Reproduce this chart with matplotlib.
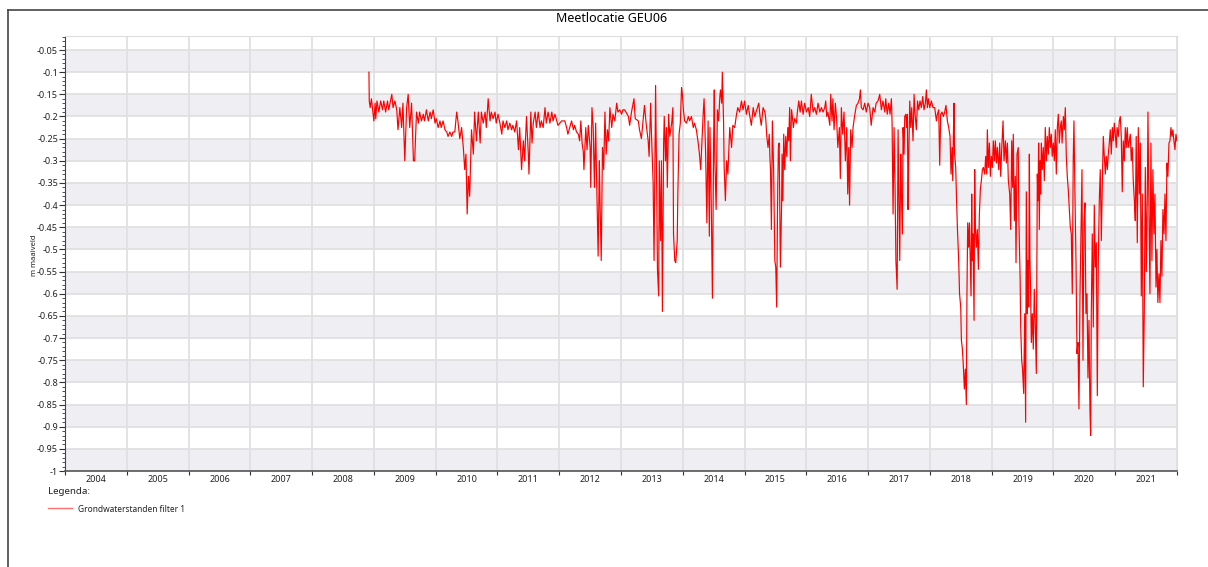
import numpy as np
import matplotlib
matplotlib.use('Agg')
import matplotlib.pyplot as plt
from matplotlib.lines import Line2D
from matplotlib.ticker import MultipleLocator, FixedLocator, FuncFormatter, NullFormatter

plt.rcParams['font.family'] = ['Noto Sans', 'DejaVu Sans']

# grondwaterstand (m t.o.v. maaiveld) per decimaal jaar
meting_2009_2010 = [
    (2008.92, -0.10), (2008.925, -0.165), (2008.94, -0.18), (2008.96, -0.16), (2008.98, -0.185),
    (2009.00, -0.21), (2009.02, -0.17), (2009.03, -0.205), (2009.05, -0.165), (2009.08, -0.19),
    (2009.11, -0.165), (2009.14, -0.185), (2009.16, -0.165), (2009.19, -0.19), (2009.22, -0.165),
    (2009.24, -0.185), (2009.29, -0.15), (2009.31, -0.18), (2009.34, -0.165), (2009.37, -0.185),
    (2009.39, -0.23), (2009.42, -0.18), (2009.45, -0.225), (2009.47, -0.17), (2009.50, -0.30),
    (2009.53, -0.18), (2009.555, -0.15), (2009.58, -0.225), (2009.61, -0.17), (2009.64, -0.30),
    (2009.66, -0.30), (2009.69, -0.19), (2009.72, -0.215), (2009.74, -0.19), (2009.77, -0.21),
    (2009.80, -0.195), (2009.82, -0.21), (2009.85, -0.185), (2009.88, -0.21), (2009.91, -0.19),
    (2009.93, -0.205), (2009.96, -0.185), (2009.99, -0.215), (2010.01, -0.205), (2010.04, -0.225),
    (2010.07, -0.21), (2010.09, -0.225), (2010.12, -0.21), (2010.15, -0.23), (2010.18, -0.235),
    (2010.20, -0.245), (2010.23, -0.235), (2010.26, -0.245), (2010.28, -0.235), (2010.31, -0.235),
    (2010.34, -0.19), (2010.36, -0.21), (2010.39, -0.25), (2010.42, -0.225), (2010.45, -0.275),
    (2010.47, -0.32), (2010.49, -0.285), (2010.51, -0.42), (2010.53, -0.335), (2010.55, -0.38),
    (2010.58, -0.23), (2010.61, -0.285), (2010.63, -0.19), (2010.66, -0.255), (2010.69, -0.19),
    (2010.72, -0.26), (2010.74, -0.19), (2010.77, -0.215), (2010.80, -0.19), (2010.82, -0.225),
    (2010.85, -0.16), (2010.88, -0.21), (2010.90, -0.19), (2010.93, -0.205), (2010.96, -0.19),
    (2010.98, -0.215), (2011.01, -0.195),
]

meting_2011_2012 = [
    (2011.04, -0.215), (2011.07, -0.24), (2011.09, -0.21), (2011.12, -0.225), (2011.15, -0.21),
    (2011.17, -0.23), (2011.20, -0.215), (2011.23, -0.23), (2011.25, -0.22), (2011.28, -0.235),
    (2011.31, -0.21), (2011.34, -0.275), (2011.36, -0.225), (2011.39, -0.32), (2011.42, -0.255),
    (2011.44, -0.30), (2011.47, -0.20), (2011.50, -0.285), (2011.51, -0.33), (2011.54, -0.19),
    (2011.56, -0.26), (2011.58, -0.215), (2011.61, -0.19), (2011.63, -0.225), (2011.66, -0.19),
    (2011.69, -0.225), (2011.71, -0.21), (2011.74, -0.225), (2011.77, -0.18), (2011.79, -0.215),
    (2011.82, -0.19), (2011.85, -0.215), (2011.88, -0.19), (2011.90, -0.21), (2011.93, -0.195),
    (2011.98, -0.22), (2012.04, -0.21), (2012.09, -0.21), (2012.12, -0.225), (2012.14, -0.24),
    (2012.17, -0.225), (2012.20, -0.21), (2012.23, -0.23), (2012.25, -0.22), (2012.28, -0.235),
    (2012.31, -0.24), (2012.33, -0.255), (2012.35, -0.21), (2012.37, -0.26), (2012.39, -0.28),
    (2012.40, -0.32), (2012.43, -0.225), (2012.45, -0.275), (2012.47, -0.22), (2012.50, -0.27),
    (2012.51, -0.36), (2012.53, -0.18), (2012.55, -0.225), (2012.57, -0.36), (2012.59, -0.215),
    (2012.60, -0.305), (2012.63, -0.515), (2012.65, -0.30), (2012.66, -0.39), (2012.68, -0.525),
    (2012.70, -0.27), (2012.72, -0.32), (2012.74, -0.19), (2012.76, -0.285), (2012.78, -0.23),
    (2012.80, -0.255), (2012.82, -0.18), (2012.85, -0.225), (2012.87, -0.195), (2012.90, -0.21),
    (2012.93, -0.17), (2012.95, -0.19), (2012.98, -0.185), (2013.01, -0.195), (2013.03, -0.185),
]

meting_2013_2014 = [
    (2013.06, -0.185), (2013.12, -0.20), (2013.14, -0.22), (2013.17, -0.19), (2013.21, -0.16),
    (2013.23, -0.205), (2013.28, -0.21), (2013.30, -0.23), (2013.33, -0.25), (2013.36, -0.205),
    (2013.38, -0.175), (2013.41, -0.22), (2013.44, -0.255), (2013.455, -0.29), (2013.48, -0.17),
    (2013.49, -0.225), (2013.52, -0.35), (2013.535, -0.525), (2013.56, -0.13), (2013.58, -0.39),
    (2013.59, -0.545), (2013.61, -0.605), (2013.62, -0.30), (2013.64, -0.48), (2013.655, -0.30),
    (2013.67, -0.64), (2013.69, -0.26), (2013.70, -0.20), (2013.72, -0.30), (2013.735, -0.225),
    (2013.75, -0.36), (2013.77, -0.195), (2013.79, -0.245), (2013.82, -0.215), (2013.84, -0.18),
    (2013.85, -0.465), (2013.87, -0.525), (2013.886, -0.53), (2013.91, -0.48), (2013.92, -0.375),
    (2013.94, -0.24), (2013.96, -0.215), (2013.98, -0.135), (2013.994, -0.15), (2014.01, -0.185),
    (2014.03, -0.21), (2014.06, -0.215), (2014.09, -0.20), (2014.11, -0.21), (2014.14, -0.20),
    (2014.17, -0.225), (2014.19, -0.215), (2014.22, -0.23), (2014.25, -0.26), (2014.27, -0.285),
    (2014.29, -0.32), (2014.31, -0.255), (2014.33, -0.195), (2014.345, -0.16), (2014.37, -0.285),
    (2014.39, -0.44), (2014.41, -0.21), (2014.43, -0.47), (2014.44, -0.225), (2014.46, -0.39),
    (2014.48, -0.61), (2014.50, -0.245), (2014.51, -0.14), (2014.52, -0.30), (2014.54, -0.41),
    (2014.56, -0.185), (2014.58, -0.21), (2014.60, -0.155), (2014.61, -0.14), (2014.63, -0.17),
    (2014.64, -0.10), (2014.66, -0.21), (2014.67, -0.315), (2014.69, -0.39), (2014.71, -0.30),
    (2014.73, -0.33), (2014.76, -0.225), (2014.79, -0.27), (2014.81, -0.22), (2014.84, -0.225),
    (2014.87, -0.195), (2014.89, -0.18), (2014.92, -0.19), (2014.95, -0.165), (2014.975, -0.185),
    (2015.00, -0.165), (2015.03, -0.195), (2015.06, -0.175), (2015.08, -0.195), (2015.11, -0.22),
    (2015.14, -0.18), (2015.165, -0.20),
]

meting_2015_2016 = [
    (2015.23, -0.17), (2015.25, -0.20), (2015.27, -0.22), (2015.30, -0.18), (2015.33, -0.19),
    (2015.343, -0.205), (2015.36, -0.245), (2015.38, -0.27), (2015.40, -0.24), (2015.41, -0.29),
    (2015.42, -0.32), (2015.435, -0.455), (2015.45, -0.21), (2015.47, -0.315), (2015.478, -0.40),
    (2015.49, -0.525), (2015.505, -0.54), (2015.52, -0.63), (2015.537, -0.36), (2015.548, -0.27),
    (2015.56, -0.26), (2015.57, -0.405), (2015.58, -0.54), (2015.60, -0.395), (2015.607, -0.285),
    (2015.62, -0.39), (2015.634, -0.24), (2015.65, -0.32), (2015.667, -0.245), (2015.683, -0.29),
    (2015.70, -0.225), (2015.715, -0.255), (2015.73, -0.18), (2015.742, -0.30), (2015.76, -0.185),
    (2015.774, -0.20), (2015.79, -0.225), (2015.81, -0.205), (2015.84, -0.215), (2015.855, -0.19),
    (2015.877, -0.165), (2015.90, -0.19), (2015.92, -0.165), (2015.947, -0.195), (2015.974, -0.17),
    (2016.00, -0.19), (2016.03, -0.18), (2016.055, -0.20), (2016.08, -0.15), (2016.11, -0.19),
    (2016.136, -0.18), (2016.163, -0.195), (2016.19, -0.17), (2016.217, -0.19), (2016.244, -0.18),
    (2016.27, -0.19), (2016.298, -0.18), (2016.314, -0.165), (2016.33, -0.20), (2016.35, -0.19),
    (2016.38, -0.22), (2016.395, -0.15), (2016.416, -0.21), (2016.43, -0.16), (2016.449, -0.23),
    (2016.47, -0.17), (2016.49, -0.205), (2016.51, -0.27), (2016.535, -0.225), (2016.55, -0.34),
    (2016.567, -0.18), (2016.589, -0.24), (2016.61, -0.19), (2016.632, -0.30), (2016.654, -0.225),
    (2016.67, -0.375), (2016.686, -0.27), (2016.70, -0.40), (2016.718, -0.23), (2016.74, -0.27),
    (2016.756, -0.225), (2016.78, -0.20), (2016.81, -0.175), (2016.837, -0.17), (2016.86, -0.16),
    (2016.875, -0.14), (2016.89, -0.18), (2016.918, -0.185), (2016.945, -0.17), (2016.97, -0.19),
    (2017.00, -0.17), (2017.026, -0.18), (2017.05, -0.22), (2017.08, -0.18), (2017.107, -0.19),
    (2017.13, -0.17), (2017.16, -0.165), (2017.188, -0.15), (2017.215, -0.185), (2017.24, -0.165),
    (2017.27, -0.19),
]

meting_2017_2018 = [
    (2017.285, -0.16), (2017.31, -0.195), (2017.334, -0.17), (2017.355, -0.195), (2017.377, -0.16),
    (2017.388, -0.215), (2017.404, -0.42), (2017.42, -0.225), (2017.436, -0.36), (2017.45, -0.525),
    (2017.47, -0.59), (2017.485, -0.23), (2017.50, -0.395), (2017.512, -0.525), (2017.528, -0.285),
    (2017.539, -0.375), (2017.555, -0.465), (2017.566, -0.225), (2017.582, -0.285), (2017.593, -0.20),
    (2017.61, -0.195), (2017.625, -0.225), (2017.636, -0.195), (2017.647, -0.41), (2017.657, -0.30),
    (2017.674, -0.165), (2017.69, -0.225), (2017.706, -0.18), (2017.727, -0.255), (2017.744, -0.15),
    (2017.76, -0.195), (2017.781, -0.23), (2017.80, -0.165), (2017.819, -0.185), (2017.84, -0.165),
    (2017.862, -0.18), (2017.884, -0.155), (2017.905, -0.185), (2017.927, -0.17), (2017.943, -0.14),
    (2017.959, -0.18), (2017.976, -0.16), (2017.997, -0.18), (2018.024, -0.165), (2018.05, -0.18),
    (2018.078, -0.18), (2018.105, -0.21), (2018.121, -0.195), (2018.143, -0.185), (2018.159, -0.31),
    (2018.175, -0.195), (2018.197, -0.19), (2018.218, -0.20), (2018.24, -0.19), (2018.26, -0.175),
    (2018.283, -0.21), (2018.305, -0.225), (2018.326, -0.245), (2018.342, -0.33), (2018.358, -0.27),
    (2018.37, -0.345), (2018.38, -0.245), (2018.39, -0.17), (2018.40, -0.285), (2018.418, -0.315),
    (2018.43, -0.38), (2018.445, -0.45), (2018.466, -0.525), (2018.48, -0.60), (2018.499, -0.63),
    (2018.51, -0.705), (2018.526, -0.725), (2018.542, -0.765), (2018.558, -0.815), (2018.574, -0.77),
    (2018.59, -0.85), (2018.60, -0.60), (2018.612, -0.44), (2018.628, -0.495), (2018.64, -0.44),
    (2018.655, -0.54), (2018.666, -0.605), (2018.677, -0.375), (2018.687, -0.525), (2018.698, -0.465),
    (2018.715, -0.66), (2018.725, -0.32), (2018.736, -0.45), (2018.752, -0.495), (2018.768, -0.455),
    (2018.785, -0.545), (2018.80, -0.425), (2018.817, -0.365), (2018.833, -0.345), (2018.85, -0.32),
    (2018.866, -0.315), (2018.887, -0.33), (2018.903, -0.29), (2018.92, -0.33), (2018.93, -0.23),
    (2018.946, -0.315), (2018.963, -0.26), (2018.979, -0.335),
]

meting_2019_2021 = [
    (2018.995, -0.29), (2019.011, -0.315), (2019.027, -0.255), (2019.044, -0.30), (2019.06, -0.255),
    (2019.076, -0.305), (2019.092, -0.27), (2019.114, -0.32), (2019.13, -0.26), (2019.146, -0.335),
    (2019.162, -0.275), (2019.184, -0.21), (2019.20, -0.30), (2019.222, -0.255), (2019.238, -0.305),
    (2019.254, -0.26), (2019.27, -0.345), (2019.292, -0.375), (2019.308, -0.455), (2019.324, -0.255),
    (2019.34, -0.36), (2019.35, -0.24), (2019.367, -0.435), (2019.383, -0.335), (2019.394, -0.53),
    (2019.41, -0.285), (2019.43, -0.27), (2019.443, -0.45), (2019.46, -0.56), (2019.47, -0.675),
    (2019.486, -0.75), (2019.50, -0.77), (2019.518, -0.825), (2019.535, -0.645), (2019.55, -0.89),
    (2019.561, -0.37), (2019.577, -0.645), (2019.588, -0.525), (2019.599, -0.63), (2019.61, -0.285),
    (2019.62, -0.525), (2019.631, -0.60), (2019.642, -0.71), (2019.658, -0.645), (2019.674, -0.725),
    (2019.69, -0.59), (2019.707, -0.675), (2019.723, -0.78), (2019.739, -0.33), (2019.75, -0.39),
    (2019.76, -0.26), (2019.771, -0.455), (2019.782, -0.30), (2019.793, -0.375), (2019.804, -0.26),
    (2019.82, -0.32), (2019.836, -0.27), (2019.852, -0.345), (2019.868, -0.225), (2019.885, -0.30),
    (2019.90, -0.245), (2019.917, -0.285), (2019.933, -0.225), (2019.95, -0.27), (2019.965, -0.24),
    (2019.98, -0.29), (2019.998, -0.26), (2020.014, -0.30), (2020.03, -0.23), (2020.046, -0.33),
    (2020.063, -0.225), (2020.079, -0.195), (2020.095, -0.26), (2020.111, -0.225), (2020.127, -0.21),
    (2020.14, -0.26), (2020.16, -0.20), (2020.176, -0.23), (2020.192, -0.18), (2020.208, -0.29),
    (2020.224, -0.335), (2020.24, -0.365), (2020.257, -0.41), (2020.273, -0.45), (2020.289, -0.465),
    (2020.305, -0.60), (2020.32, -0.30), (2020.332, -0.21), (2020.348, -0.375), (2020.365, -0.525),
    (2020.381, -0.735), (2020.397, -0.71), (2020.413, -0.86), (2020.43, -0.60), (2020.45, -0.42),
    (2020.462, -0.32), (2020.478, -0.75), (2020.494, -0.44), (2020.51, -0.395), (2020.526, -0.645),
    (2020.543, -0.60), (2020.559, -0.79), (2020.575, -0.66), (2020.591, -0.86), (2020.602, -0.92),
    (2020.613, -0.635), (2020.629, -0.465), (2020.645, -0.675), (2020.661, -0.40), (2020.677, -0.54),
    (2020.694, -0.485), (2020.71, -0.83), (2020.726, -0.525), (2020.742, -0.39), (2020.758, -0.32),
    (2020.775, -0.48), (2020.79, -0.36), (2020.807, -0.245), (2020.823, -0.29), (2020.84, -0.33),
    (2020.855, -0.29), (2020.872, -0.32), (2020.888, -0.285), (2020.904, -0.26), (2020.92, -0.23),
    (2020.936, -0.285), (2020.953, -0.225), (2020.969, -0.255), (2020.985, -0.215), (2021.001, -0.24),
    (2021.017, -0.27), (2021.03, -0.225), (2021.05, -0.245), (2021.066, -0.21), (2021.082, -0.20),
    (2021.098, -0.245), (2021.114, -0.37), (2021.13, -0.255), (2021.147, -0.30), (2021.163, -0.225),
    (2021.179, -0.27), (2021.195, -0.225), (2021.21, -0.27), (2021.228, -0.255), (2021.244, -0.24),
    (2021.26, -0.30), (2021.276, -0.27), (2021.292, -0.345), (2021.31, -0.39), (2021.325, -0.435),
    (2021.34, -0.245), (2021.357, -0.485), (2021.373, -0.225), (2021.39, -0.375), (2021.406, -0.26),
    (2021.422, -0.605), (2021.438, -0.375), (2021.454, -0.81), (2021.47, -0.645), (2021.487, -0.315),
    (2021.503, -0.55), (2021.519, -0.38), (2021.53, -0.19), (2021.546, -0.41), (2021.562, -0.60),
    (2021.578, -0.26), (2021.594, -0.525), (2021.61, -0.32), (2021.627, -0.465), (2021.643, -0.375),
    (2021.66, -0.585), (2021.675, -0.50), (2021.69, -0.62), (2021.708, -0.555), (2021.724, -0.62),
    (2021.74, -0.48), (2021.756, -0.56), (2021.772, -0.41), (2021.79, -0.465), (2021.805, -0.375),
    (2021.821, -0.48), (2021.837, -0.305), (2021.853, -0.335), (2021.87, -0.26), (2021.886, -0.255),
    (2021.902, -0.225), (2021.918, -0.245), (2021.934, -0.23), (2021.95, -0.255), (2021.967, -0.275),
    (2021.983, -0.24), (2021.999, -0.255),
]

jaren = list(range(2004, 2022))

metingen = (meting_2009_2010 + meting_2011_2012 + meting_2013_2014 +
            meting_2015_2016 + meting_2017_2018 + meting_2019_2021)
t = [m[0] for m in metingen]
h = [m[1] for m in metingen]

W, H = 1208, 567
fig = plt.figure(figsize=(W / 100, H / 100), dpi=100)
ax = fig.add_axes([65 / W, 1 - 471 / H, (1177 - 65) / W, (471 - 36) / H])

ax.set_xlim(2004, 2022)
ax.set_ylim(-1, -0.0184)

# grijze banden
for lo in np.arange(-1, -0.06, 0.1):
    ax.axhspan(lo, lo + 0.05, color='#efeff3', lw=0, zorder=0)

ax.plot(t, h, color='#ff0000', lw=0.85, zorder=3)

ax.yaxis.set_major_locator(MultipleLocator(0.05))
ax.yaxis.set_minor_locator(MultipleLocator(0.01))
ax.yaxis.set_major_formatter(FuncFormatter(lambda v, p: f'{round(v, 2):g}'))
ax.xaxis.set_major_locator(MultipleLocator(1))
ax.xaxis.set_major_formatter(NullFormatter())
ax.xaxis.set_minor_locator(FixedLocator([j + 0.5 for j in jaren]))
ax.xaxis.set_minor_formatter(FuncFormatter(lambda v, p: str(int(v))))

ax.grid(True, which='major', color='#e0e0e0', lw=1.3, zorder=1)
ax.set_axisbelow(True)

ax.tick_params(axis='y', which='major', length=4, width=0.8, color='#333333',
               labelsize=6.5, labelcolor='#222222', pad=1)
ax.tick_params(axis='y', which='minor', length=2, width=0.6, color='#333333')
ax.tick_params(axis='x', which='major', length=3, width=0.8, color='#333333')
ax.tick_params(axis='x', which='minor', length=0, labelsize=6.5, labelcolor='#222222', pad=3)

ax.spines['left'].set_color('#444444')
ax.spines['bottom'].set_color('#555555')
ax.spines['bottom'].set_linewidth(1.2)
ax.spines['top'].set_color('#dddddd')
ax.spines['right'].set_color('#dddddd')

fig.text(612 / W, 1 - 18 / H, 'Meetlocatie GEU06', ha='center', va='center', fontsize=9)
fig.text(35 / W, 1 - 255 / H, 'm maaiveld', rotation=90, ha='center', va='center',
         fontsize=5.5, fontweight='bold', color='#222222')

# legenda
fig.text(48 / W, 1 - 492 / H, 'Legenda:', ha='left', va='center', fontsize=7, color='#222222')
fig.add_artist(Line2D([48 / W, 72 / W], [1 - 508 / H] * 2, color='#ff7070', lw=1))
fig.text(78 / W, 1 - 509 / H, 'Grondwaterstanden filter 1', ha='left', va='center',
         fontsize=6, color='#222222')

# kader
fig.add_artist(Line2D([8 / W, 8 / W], [0, 1 - 10 / H], color='#444444', lw=1.2))
fig.add_artist(Line2D([8 / W, 1], [1 - 10 / H] * 2, color='#444444', lw=1.2))

fig.savefig('out.png', dpi=100)
